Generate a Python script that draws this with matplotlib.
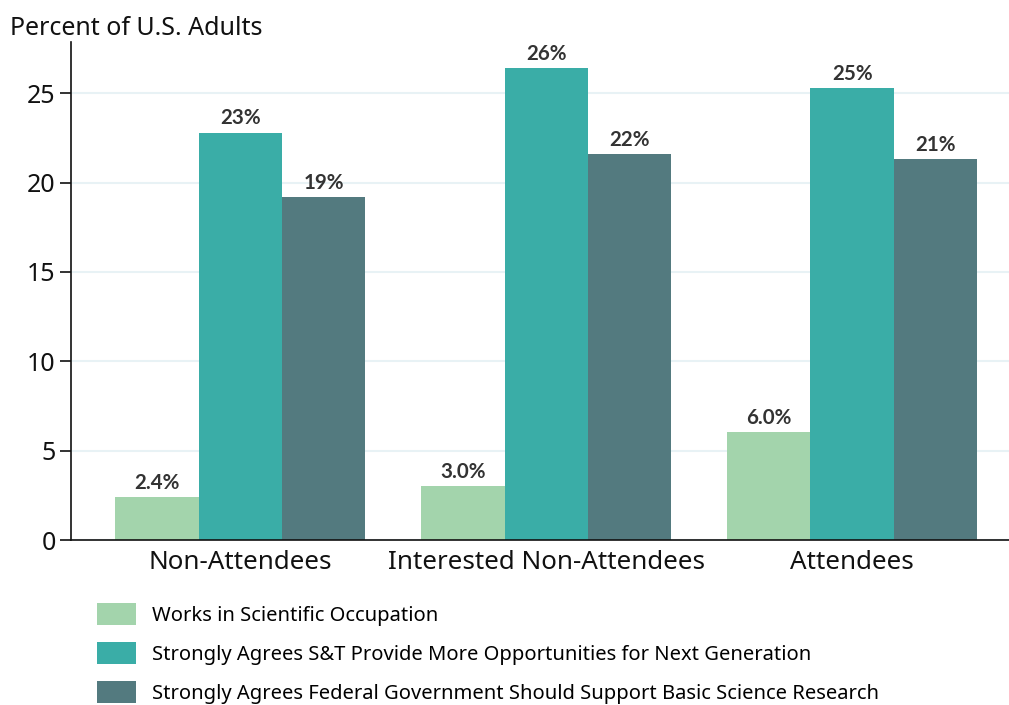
import matplotlib
matplotlib.use("Agg")
import matplotlib.pyplot as plt
from matplotlib.patches import Patch
import numpy as np

plt.rcParams["font.family"] = ["Noto Sans", "DejaVu Sans"]

# ---------------- Data ----------------
GROUPS = ["Non-Attendees", "Interested Non-Attendees", "Attendees"]
SERIES = [
    "Works in Scientific Occupation",
    "Strongly Agrees S&T Provide More Opportunities for Next Generation",
    "Strongly Agrees Federal Government Should Support Basic Science Research",
]
WORKS_SCI = [2.4, 3.0, 6.05]
MORE_OPPS = [22.8, 26.4, 25.3]
FED_SUPPORT = [19.2, 21.6, 21.3]
LABELS = [
    ["2.4%", "3.0%", "6.0%"],
    ["23%", "26%", "25%"],
    ["19%", "22%", "21%"],
]
YTICKS = [0, 5, 10, 15, 20, 25]

COLORS = ["#a3d4ac", "#3aada7", "#537a7f"]
BAR_W = 0.2725

fig = plt.figure(figsize=(10.09, 7.05), dpi=100)
ax = fig.add_axes([0.0704, 0.234, 0.9296, 0.706])

x = np.arange(len(GROUPS))
values = [WORKS_SCI, MORE_OPPS, FED_SUPPORT]
for i, (vals, col) in enumerate(zip(values, COLORS)):
    bars = ax.bar(x + (i - 1) * BAR_W, vals, BAR_W, color=col, zorder=2)
    for b, lab in zip(bars, LABELS[i]):
        ax.annotate(lab, (b.get_x() + b.get_width() / 2, b.get_height()),
                    xytext=(0, 3), textcoords="offset points",
                    ha="center", va="bottom", fontsize=14.8, fontweight="bold",
                    family=["Lato", "DejaVu Sans"], color="#333333")

ax.set_xlim(-0.554, 2.513)
ax.set_ylim(0, 27.85)
ax.set_yticks(YTICKS)
ax.set_xticks(x)
ax.set_xticklabels(GROUPS)
ax.tick_params(axis="x", length=0, labelsize=18.7, pad=7, colors="#111111")
ax.tick_params(axis="y", length=8, width=1.2, labelsize=18, pad=3, colors="#111111")
ax.yaxis.grid(True, color="#e8f2f5", linewidth=1.5, zorder=0)
ax.set_axisbelow(True)
for s in ["top", "right"]:
    ax.spines[s].set_visible(False)
for s in ["left", "bottom"]:
    ax.spines[s].set_linewidth(1.2)
    ax.spines[s].set_color("#111111")

fig.text(0.01, 0.959, "Percent of U.S. Adults", fontsize=18, color="#111111",
         ha="left", va="center")

handles = [Patch(facecolor=c, edgecolor="none") for c in COLORS]
fig.legend(handles, SERIES, loc="upper left", bbox_to_anchor=(0.096, 0.145),
           frameon=False, fontsize=14.5, handlelength=1.94, handleheight=1.34,
           labelspacing=0.8, handletextpad=0.8, borderaxespad=0,
           borderpad=0)

fig.savefig("out.png", dpi=100)
